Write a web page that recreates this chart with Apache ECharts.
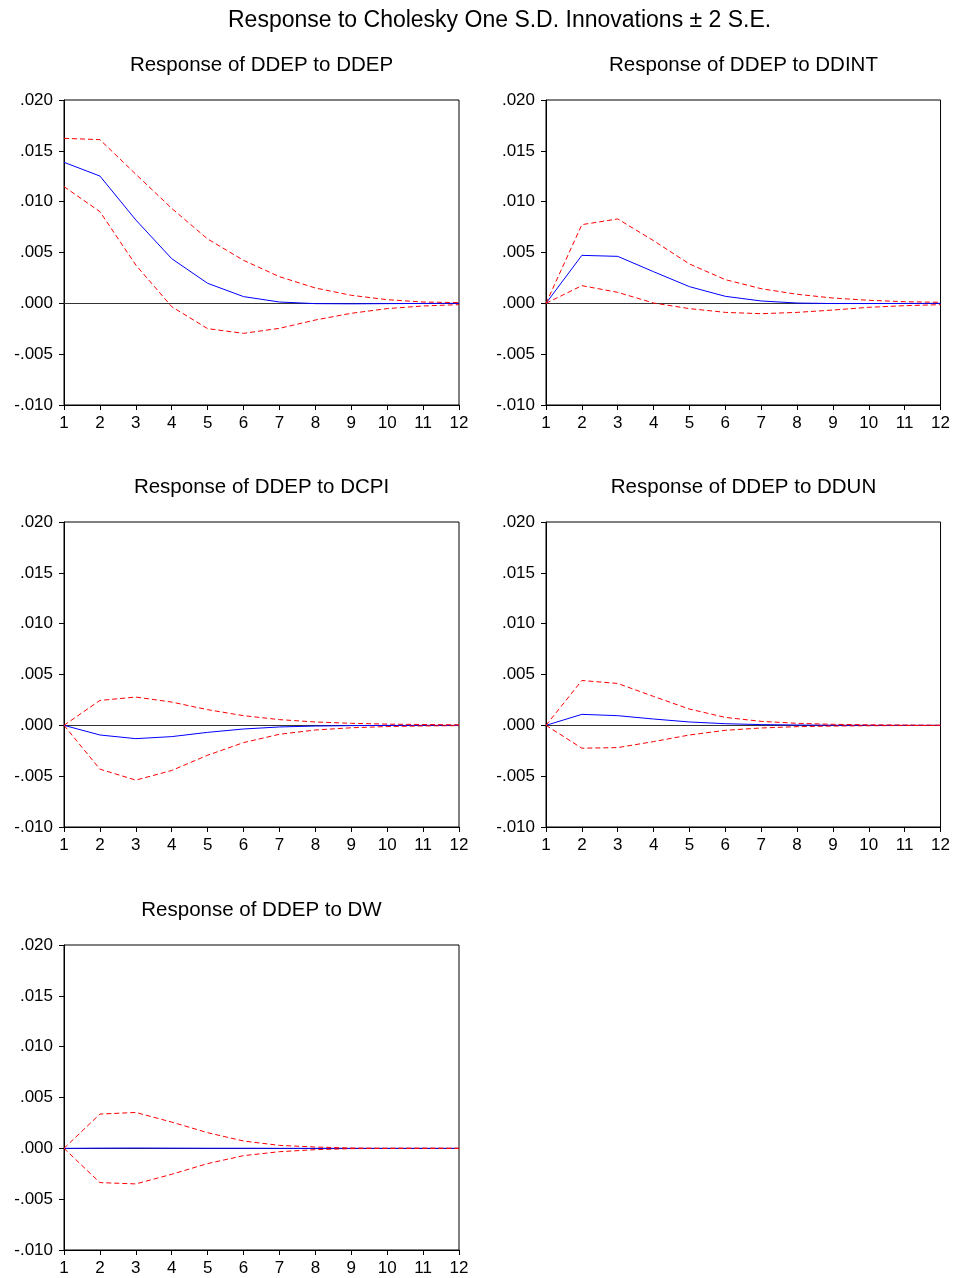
<!DOCTYPE html>
<html><head><meta charset="utf-8">
<script src="https://cdn.jsdelivr.net/npm/echarts@6/dist/echarts.min.js"></script>
<style>html,body{margin:0;padding:0;background:#fff}#c{width:953px;height:1278px}</style>
</head><body><div id="c"></div>
<script>
const periods = [1,2,3,4,5,6,7,8,9,10,11,12];
const panelTitles = ['Response of DDEP to DDEP','Response of DDEP to DDINT','Response of DDEP to DCPI','Response of DDEP to DDUN','Response of DDEP to DW'];

const ddepResp  = [0.01387,0.01252,0.0082,0.00439,0.00197,0.00066,0.00013,-0.00003,-0.00005,-0.00003,-0.00001,0];
const ddepUpper = [0.01623,0.0161,0.0127,0.00934,0.00633,0.00423,0.00262,0.00151,0.00079,0.00036,0.00013,0.00007];
const ddepLower = [0.01148,0.00902,0.00377,-0.00033,-0.00249,-0.00295,-0.00246,-0.00164,-0.00098,-0.00052,-0.00026,-0.00013];

const ddintResp  = [0,0.00472,0.00462,0.00311,0.00164,0.00069,0.00023,0.00003,-0.00002,-0.00002,-0.00001,0];
const ddintUpper = [0,0.00774,0.0083,0.00616,0.00387,0.00233,0.00144,0.00089,0.00052,0.0003,0.00016,0.0001];
const ddintLower = [0,0.00174,0.00108,0.00003,-0.00052,-0.00089,-0.00102,-0.00089,-0.00066,-0.00039,-0.00023,-0.00013];

const dcpiResp  = [0,-0.00095,-0.00131,-0.00111,-0.00069,-0.00036,-0.00016,-0.00007,-0.00003,-0.00001,0,0];
const dcpiUpper = [0,0.00245,0.00278,0.00229,0.00154,0.00095,0.00056,0.00033,0.0002,0.00012,0.00008,0.00005];
const dcpiLower = [0,-0.00431,-0.00539,-0.00444,-0.00294,-0.0017,-0.00088,-0.00046,-0.00024,-0.00012,-0.00006,-0.00003];

const ddunResp  = [0,0.00108,0.00095,0.00062,0.00033,0.00016,0.00007,0.00003,0.00001,0,0,0];
const ddunUpper = [0,0.00441,0.00412,0.00284,0.0016,0.00078,0.00039,0.0002,0.0001,0.00005,0.00003,0.00001];
const ddunLower = [0,-0.00225,-0.00219,-0.0016,-0.00095,-0.00049,-0.00026,-0.00013,-0.00007,-0.00004,-0.00002,-0.00001];

const dwResp  = [0,0.00002,0.00003,0.00002,0.00001,0.00001,0,0,0,0,0,0];
const dwUpper = [0,0.00337,0.00353,0.00258,0.00154,0.00072,0.00029,0.00013,0.00003,0.00001,0.00001,0];
const dwLower = [0,-0.00337,-0.0035,-0.00255,-0.0015,-0.00072,-0.00033,-0.00013,-0.00003,-0.00001,0,0];

const panels = [
  [ddepResp, ddepUpper, ddepLower],
  [ddintResp, ddintUpper, ddintLower],
  [dcpiResp, dcpiUpper, dcpiLower],
  [ddunResp, ddunUpper, ddunLower],
  [dwResp, dwUpper, dwLower]
];

const FONT = 'Liberation Sans, Arial, sans-serif';
const lefts = [64, 546, 64, 546, 64];
const tops = [100, 100, 522, 522, 945];
const W = 395, H = 305;
const titleCenters = [261.5, 743.5, 261.5, 743.5, 261.5];

const grids = [], xAxes = [], yAxes = [], series = [], titles = [];
titles.push({text:'Response to Cholesky One S.D. Innovations \u00b1 2 S.E.', left:223, top:4,
  textStyle:{fontFamily:FONT, fontSize:23, fontWeight:'normal', color:'#000'}});
panels.forEach((p, i) => {
  grids.push({left:lefts[i], top:tops[i], width:W, height:H, show:true, borderColor:'#000', borderWidth:1, backgroundColor:'transparent'});
  titles.push({text:panelTitles[i], left:titleCenters[i]-5, top:tops[i]-50, textAlign:'center',
    textStyle:{fontFamily:FONT, fontSize:20.5, fontWeight:'normal', color:'#000'}});
  xAxes.push({type:'value', gridIndex:i, min:1, max:12, interval:1,
    axisLine:{show:true, onZero:false, lineStyle:{color:'#000', width:1}},
    axisTick:{show:true, inside:false, length:5, lineStyle:{color:'#000'}},
    splitLine:{show:false},
    axisLabel:{fontFamily:FONT, fontSize:17, color:'#000', margin:10}});
  yAxes.push({type:'value', gridIndex:i, min:-0.01, max:0.02, interval:0.005,
    axisLine:{show:true, lineStyle:{color:'#000', width:1}},
    axisTick:{show:true, inside:false, length:5, lineStyle:{color:'#000'}},
    splitLine:{show:false},
    axisLabel:{fontFamily:FONT, fontSize:17, color:'#000', margin:11,
      formatter: v => { let s = Math.abs(v) < 1e-12 ? '0.000' : v.toFixed(3); return s.replace('0.', '.'); }}});
  const pts = arr => arr.map((v, k) => [periods[k], v]);
  series.push({type:'line', xAxisIndex:i, yAxisIndex:i, data:pts(p[0]), symbol:'none', silent:true,
    lineStyle:{color:'#0000ff', width:1}, z:3,
    markLine:{silent:true, symbol:'none', label:{show:false}, lineStyle:{color:'#333', width:1, type:'solid'}, data:[{yAxis:0}], z:1}});
  series.push({type:'line', xAxisIndex:i, yAxisIndex:i, data:pts(p[1]), symbol:'none', silent:true,
    lineStyle:{color:'#ff0000', width:1, type:[5,3]}, z:4});
  series.push({type:'line', xAxisIndex:i, yAxisIndex:i, data:pts(p[2]), symbol:'none', silent:true,
    lineStyle:{color:'#ff0000', width:1, type:[5,3]}, z:4});
});

const chart = echarts.init(document.getElementById('c'), null, {renderer:'canvas'});
chart.setOption({animation:false, backgroundColor:'#fff', title:titles, grid:grids, xAxis:xAxes, yAxis:yAxes, series:series});
</script></body></html>
